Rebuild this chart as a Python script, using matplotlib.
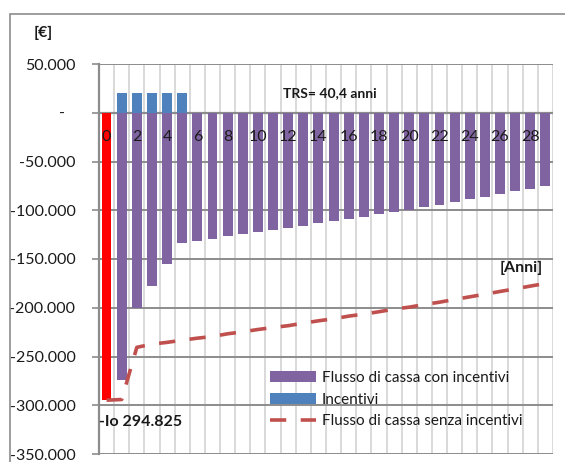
import numpy as np
import matplotlib.pyplot as plt
from matplotlib.patches import Rectangle
from matplotlib.ticker import FuncFormatter
from matplotlib.transforms import ScaledTranslation

plt.rcParams['font.family'] = ['Lato', 'DejaVu Sans']

# dati
anni = list(range(30))
investimento = -294825
flusso_con_incentivi = [-274100, -200600, -177300, -155500, -133250, -131200, -129500,
                        -126700, -124700, -122300, -120250, -118400, -115800, -113400,
                        -111300, -108600, -106500, -104100, -101400, -99400, -96700,
                        -94300, -91500, -88800, -86100, -83300, -80600, -77800, -75100]
incentivi = [20000, 20000, 20000, 20000, 20000]
flusso_senza_incentivi = [-294825, -294100, -240600, -237300, -235500, -233250, -231200,
                          -229500, -226700, -224700, -222300, -220250, -218400, -215800,
                          -213400, -211300, -208600, -206500, -204100, -201400, -199400,
                          -196700, -194300, -191500, -188800, -186100, -183300, -180600,
                          -177800, -175100]
x_labels = [str(a) if a % 2 == 0 else '' for a in anni]

W, H = 565, 462
fig = plt.figure(figsize=(W / 100, H / 100), dpi=100)
ax = fig.add_axes([99 / W, 1 - 454 / H, (553 - 99) / W, (454 - 64) / H])

grid_dark = '#8c8c8c'
grid_light = '#d9d9d9'
txt = '#1a1a1a'

ax.bar([0], [investimento], width=0.63, color='#ff0000', zorder=3)
b1 = ax.bar(anni[1:], flusso_con_incentivi, width=0.66, color='#8064a2', zorder=3,
            label='Flusso di cassa con incentivi')
b2 = ax.bar(anni[1:6], incentivi, width=0.66, color='#4f81bd', zorder=3, label='Incentivi')
l1, = ax.plot(anni, flusso_senza_incentivi, color='#c0504d', lw=2.6, dashes=(4.5, 4),
              zorder=4, label='Flusso di cassa senza incentivi')

ax.set_xlim(-0.5, 29.5)
ax.set_ylim(-350000, 50000)
yt = np.arange(-350000, 50001, 50000)
ax.set_yticks(yt)


def fmt(v, pos):
    if v == 0:
        return '-'
    return f'{v:,.0f}'.replace(',', '.')


ax.yaxis.set_major_formatter(FuncFormatter(fmt))
ax.tick_params(axis='y', length=5, width=1.2, color=grid_dark, labelsize=11.5, pad=12,
               labelcolor=txt)
# il trattino dello zero sta un po' piu' a sinistra (formato contabile)
zero_lab = ax.get_yticklabels()[list(yt).index(0)]
zero_lab.set_transform(zero_lab.get_transform()
                       + ScaledTranslation(-10 / 100, 0, fig.dpi_scale_trans))

ax.set_xticks([])
ax.set_xticks(np.arange(-0.5, 30, 1), minor=True)
ax.tick_params(axis='x', which='minor', length=0)
ax.grid(axis='y', color=grid_dark, lw=1.4, zorder=1)
ax.grid(axis='x', which='minor', color=grid_light, lw=1.4, zorder=1)
ax.axhline(0, color=grid_dark, lw=1.6, zorder=2)

for s in ['top', 'right', 'bottom']:
    ax.spines[s].set_visible(False)
ax.spines['left'].set_color(grid_dark)
ax.spines['left'].set_linewidth(1.6)

for a, lab in zip(anni, x_labels):
    if lab:
        ax.text(a, -25000, lab, ha='center', va='center', fontsize=11.5, color=txt,
                zorder=5)

ax.legend([b1, b2, l1], [b1.get_label(), b2.get_label(), l1.get_label()],
          loc='upper left', bbox_to_anchor=(270 / W, 1 - 371 / H),
          bbox_transform=fig.transFigure, frameon=False, fontsize=11,
          handlelength=3.0, handletextpad=0.4, labelspacing=0.5, borderpad=0,
          borderaxespad=0, labelcolor=txt)

fig.text(43 / W, 1 - 33 / H, '[€]', ha='center', va='center', fontsize=11.5,
         fontweight='bold', color=txt)
fig.text(330 / W, 1 - 93 / H, 'TRS= 40,4 anni', ha='center', va='center', fontsize=10,
         fontweight='bold', color=txt)
fig.text(521 / W, 1 - 268 / H, '[Anni]', ha='center', va='center', fontsize=11.5,
         fontweight='bold', color=txt)
fig.text(99 / W, 1 - 422 / H, '-Io 294.825', ha='left', va='center', fontsize=11.5,
         fontweight='bold', color=txt)

fig.patches.append(Rectangle((10 / W, -0.05), 1.2, 1 - 14 / H + 0.05, fill=False,
                             ec=grid_dark, lw=1.2, transform=fig.transFigure))

fig.savefig('out.png', dpi=100)
